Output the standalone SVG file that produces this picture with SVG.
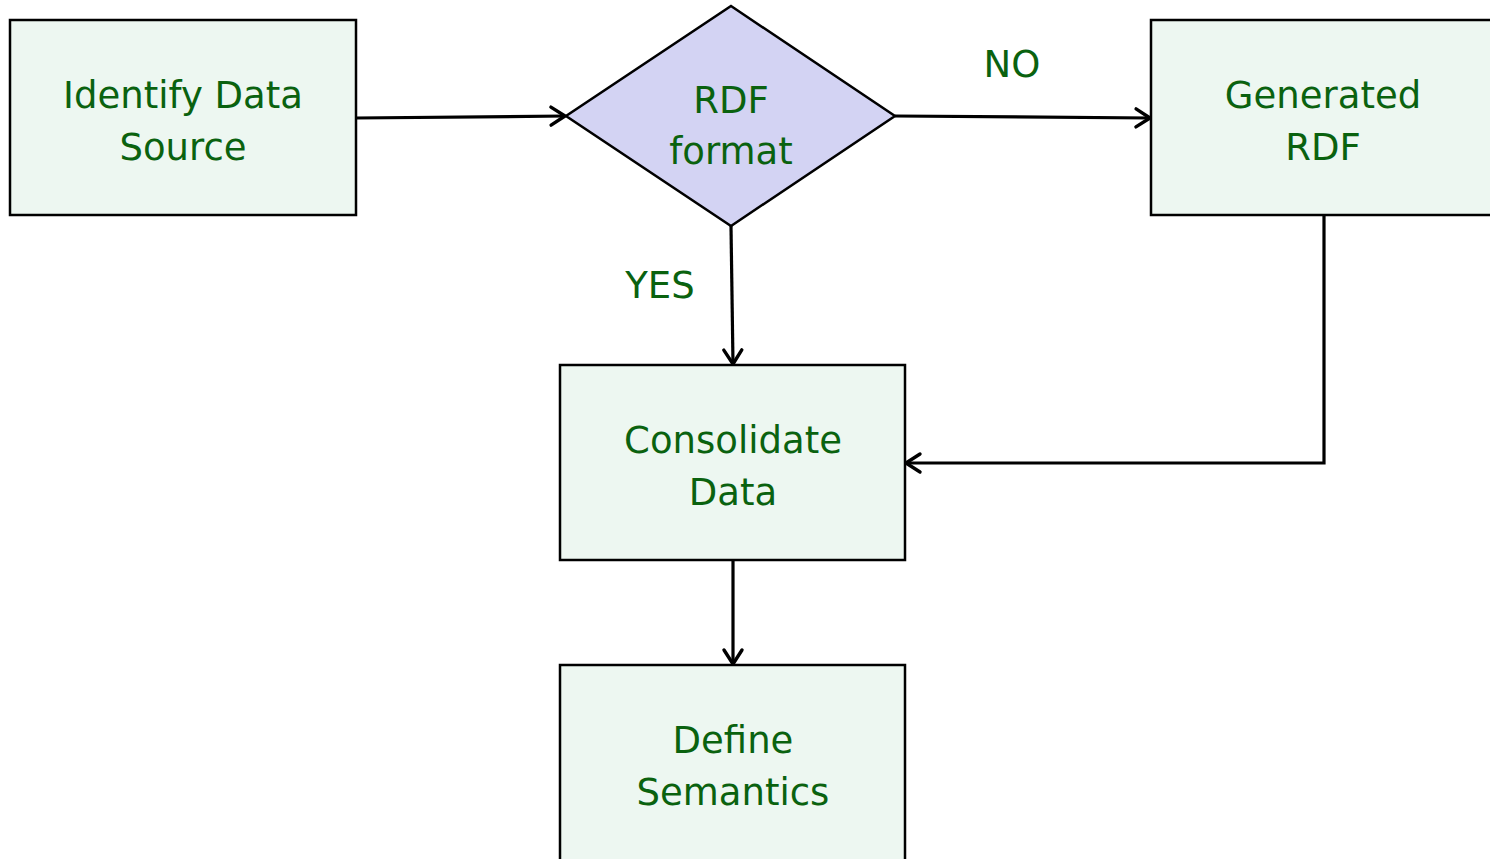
<svg xmlns="http://www.w3.org/2000/svg" width="1490" height="859" viewBox="0 0 1490 859">
  <style>
    .box { fill: #edf7f1; stroke: #000; stroke-width: 2.5; }
    .decision { fill: #d3d3f3; stroke: #000; stroke-width: 2.5; stroke-linejoin: miter; }
    .label { font-family: "DejaVu Sans", sans-serif; font-size: 37px; fill: #0a620f; text-anchor: middle; }
    .edge { fill: none; stroke: #000; stroke-width: 3.2; }
  </style>
  <defs>
    <!-- open V arrowhead shared by every connector -->
    <marker id="arrow" viewBox="0 0 24 24" refX="21" refY="12" markerWidth="24" markerHeight="24" markerUnits="userSpaceOnUse" orient="auto">
      <path d="M7,3 L21,12 L7,21" fill="none" stroke="#000" stroke-width="3.4" stroke-linecap="round" stroke-linejoin="round"/>
    </marker>
  </defs>
  <rect width="1490" height="859" fill="#fff"/>

  <g id="connectors">
    <path class="edge" d="M356,118 L565,116" marker-end="url(#arrow)"/>
    <path class="edge" d="M895,116 L1150,118" marker-end="url(#arrow)"/>
    <path class="edge" d="M731,226 L733,364" marker-end="url(#arrow)"/>
    <path class="edge" d="M1324,215 L1324,463 L906,463" marker-end="url(#arrow)"/>
    <path class="edge" d="M733,560 L733,664" marker-end="url(#arrow)"/>
  </g>

  <g id="identify">
    <rect class="box" x="10" y="20" width="346" height="195"/>
    <text class="label" x="183" y="108">Identify Data</text>
    <text class="label" x="183" y="160">Source</text>
  </g>

  <g id="rdf-format">
    <polygon class="decision" points="731,6 895,116 731,226 566,116"/>
    <text class="label" x="731" y="113">RDF</text>
    <text class="label" x="731" y="164">format</text>
  </g>

  <g id="generated">
    <rect class="box" x="1151" y="20" width="345" height="195"/>
    <text class="label" x="1323" y="108">Generated</text>
    <text class="label" x="1323" y="160">RDF</text>
  </g>

  <g id="consolidate">
    <rect class="box" x="560" y="365" width="345" height="195"/>
    <text class="label" x="733" y="453">Consolidate</text>
    <text class="label" x="733" y="505">Data</text>
  </g>

  <g id="define">
    <rect class="box" x="560" y="665" width="345" height="210"/>
    <text class="label" x="733" y="753">Define</text>
    <text class="label" x="733" y="805">Semantics</text>
  </g>

  <g id="edge-labels">
    <text class="label" x="1012" y="77">NO</text>
    <text class="label" x="660" y="298">YES</text>
  </g>
</svg>
